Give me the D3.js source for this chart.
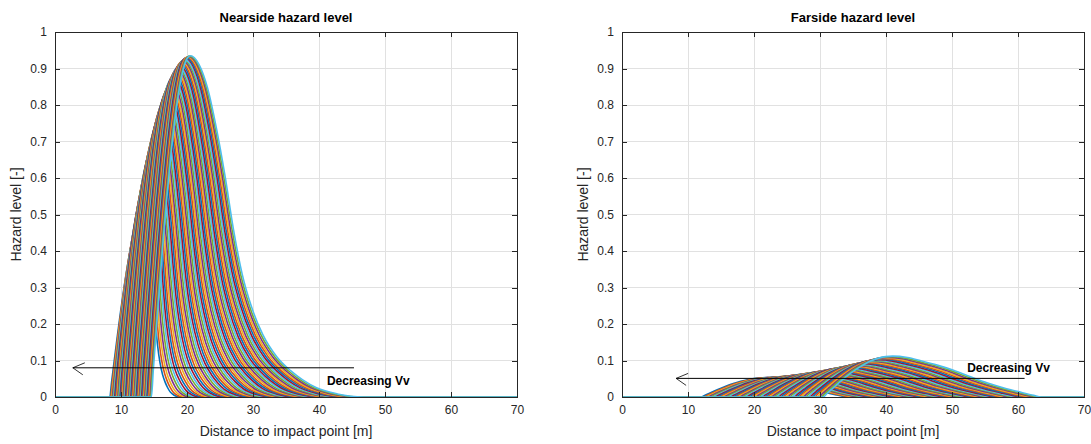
<!DOCTYPE html>
<html><head><meta charset="utf-8">
<script src="https://cdn.jsdelivr.net/npm/d3@7"></script>
<style>
html,body{margin:0;padding:0;background:#fff;}
svg{display:block;font-family:"Liberation Sans",Arial,Helvetica,sans-serif;}
</style></head>
<body><svg id="chart" width="1091" height="444"></svg>
<script>
// ---------- data ----------
const xTicks = [0, 10, 20, 30, 40, 50, 60, 70];
const yTicks = [0, 0.1, 0.2, 0.3, 0.4, 0.5, 0.6, 0.7, 0.8, 0.9, 1];
const yTickLabels = ["0","0.1","0.2","0.3","0.4","0.5","0.6","0.7","0.8","0.9","1"];
const seriesColors = ["#0072BD","#D95319","#EDB120","#7E2F8E","#77AC30","#4DBEEE","#A2142F"];

// normalised bump profile: rising side (fraction of rise distance -> fraction of peak)
const riseU = [0, 0.05, 0.1, 0.15, 0.2, 0.3, 0.4, 0.5, 0.6, 0.7, 0.8, 0.9, 1];
const riseF = [0, 0.079, 0.156, 0.233, 0.309, 0.454, 0.588, 0.707, 0.809, 0.891, 0.951, 0.988, 1];
// falling side, nearside (fraction of fall distance -> fraction of peak)
const nearFallV = [0, 0.05, 0.1, 0.15, 0.2, 0.25, 0.3, 0.35, 0.42, 0.5, 0.58, 0.65, 0.73, 0.85, 1];
const nearFallG = [1, 0.975, 0.905, 0.79, 0.65, 0.49, 0.36, 0.27, 0.182, 0.118, 0.077, 0.05, 0.027, 0.009, 0];
// falling side, farside
const farFallV = [0, 0.1, 0.19, 0.3, 0.41, 0.52, 0.64, 0.75, 0.87, 0.95, 1];
const farFallG = [1, 0.965, 0.885, 0.78, 0.655, 0.5, 0.34, 0.22, 0.11, 0.04, 0];

// Nearside curves: start [m], peak position [m], peak level [-], end [m]
const nearStart = [8.30,8.42,8.53,8.65,8.77,8.88,9.00,9.12,9.23,9.35,9.47,9.58,9.70,9.82,9.93,10.05,10.17,10.28,10.40,10.52,10.63,10.75,10.87,10.98,11.10,11.22,11.33,11.45,11.57,11.68,11.80,11.92,12.03,12.15,12.27,12.38,12.50,12.62,12.73,12.85,12.97,13.08,13.20,13.32,13.43,13.55,13.67,13.78,13.90,14.02,14.13,14.25,14.37,14.48,14.60];
const nearPeak = [13.80,13.92,14.05,14.17,14.30,14.42,14.54,14.67,14.79,14.92,15.04,15.16,15.29,15.41,15.54,15.66,15.79,15.91,16.03,16.16,16.28,16.41,16.53,16.65,16.78,16.90,17.03,17.15,17.27,17.40,17.52,17.65,17.77,17.89,18.02,18.14,18.27,18.39,18.51,18.64,18.76,18.89,19.01,19.13,19.26,19.38,19.51,19.63,19.76,19.88,20.00,20.13,20.25,20.38,20.50];
const nearLevel = [0.520,0.538,0.555,0.573,0.590,0.608,0.623,0.637,0.651,0.665,0.679,0.692,0.703,0.714,0.725,0.737,0.748,0.757,0.767,0.776,0.785,0.794,0.803,0.810,0.818,0.825,0.832,0.840,0.846,0.852,0.858,0.864,0.871,0.876,0.880,0.885,0.890,0.894,0.899,0.902,0.906,0.909,0.913,0.916,0.919,0.921,0.923,0.925,0.928,0.929,0.931,0.932,0.933,0.934,0.935];
const nearEnd = [18.80,19.32,19.83,20.35,20.87,21.38,21.90,22.42,22.93,23.45,23.97,24.48,25.00,25.52,26.03,26.55,27.07,27.58,28.10,28.62,29.13,29.65,30.17,30.68,31.20,31.72,32.23,32.75,33.27,33.78,34.30,34.82,35.33,35.85,36.37,36.88,37.40,37.92,38.43,38.95,39.47,39.98,40.50,41.02,41.53,42.05,42.57,43.08,43.60,44.12,44.63,45.15,45.67,46.18,46.70];

// Farside curves
const farStart = [12.00,12.34,12.69,13.03,13.37,13.71,14.06,14.40,14.74,15.08,15.43,15.77,16.11,16.45,16.80,17.14,17.48,17.82,18.17,18.51,18.85,19.19,19.54,19.88,20.22,20.56,20.91,21.25,21.59,21.94,22.28,22.62,22.96,23.31,23.65,23.99,24.33,24.68,25.02,25.36,25.70,26.05,26.39,26.73,27.07,27.42,27.76,28.10,28.44,28.79,29.13,29.47,29.81,30.16,30.50];
const farPeak = [22.00,22.35,22.70,23.06,23.41,23.76,24.11,24.46,24.81,25.17,25.52,25.87,26.22,26.57,26.93,27.28,27.63,27.98,28.33,28.69,29.04,29.39,29.74,30.09,30.44,30.80,31.15,31.50,31.85,32.20,32.56,32.91,33.26,33.61,33.96,34.31,34.67,35.02,35.37,35.72,36.07,36.43,36.78,37.13,37.48,37.83,38.19,38.54,38.89,39.24,39.59,39.94,40.30,40.65,41.00];
const farLevel = [0.0530,0.0531,0.0533,0.0536,0.0539,0.0543,0.0548,0.0552,0.0558,0.0564,0.0570,0.0576,0.0583,0.0590,0.0598,0.0606,0.0614,0.0623,0.0632,0.0641,0.0650,0.0660,0.0670,0.0681,0.0691,0.0702,0.0713,0.0725,0.0736,0.0748,0.0760,0.0773,0.0785,0.0798,0.0811,0.0825,0.0838,0.0852,0.0866,0.0881,0.0895,0.0910,0.0925,0.0940,0.0955,0.0971,0.0987,0.1002,0.1019,0.1035,0.1052,0.1068,0.1086,0.1103,0.1120];
const farEnd = [34.00,34.55,35.09,35.64,36.19,36.73,37.28,37.82,38.37,38.92,39.46,40.01,40.56,41.10,41.65,42.19,42.74,43.29,43.83,44.38,44.93,45.47,46.02,46.56,47.11,47.66,48.20,48.75,49.30,49.84,50.39,50.94,51.48,52.03,52.57,53.12,53.67,54.21,54.76,55.31,55.85,56.40,56.94,57.49,58.04,58.58,59.13,59.68,60.22,60.77,61.31,61.86,62.41,62.95,63.50];

// annotations (data units): arrow [xFrom, xTo, y], label [x, y]
const nearArrow = [45.3, 2.7, 0.080];
const nearLabel = [41.2, 0.044];
const farArrow = [61.0, 8.2, 0.051];
const farLabel = [52.3, 0.080];
const labelText = "Decreasing Vv";

// ---------- drawing ----------
const svg = d3.select("#chart");
svg.append("rect").attr("width",1091).attr("height",444).attr("fill","#fff");

function panel(opts){
  const {left, right, top, bottom, title, start, peak, level, end, fallV, fallG, arrow, label} = opts;
  const x = d3.scaleLinear().domain([0,70]).range([left,right]);
  const y = d3.scaleLinear().domain([0,1]).range([bottom,top]);
  const g = svg.append("g");
  const axisCol = "#262626";

  // grid
  g.selectAll(".gx").data(xTicks).join("line")
    .attr("x1",d=>x(d)).attr("x2",d=>x(d)).attr("y1",top).attr("y2",bottom)
    .attr("stroke","#e1e1e1").attr("stroke-width",1).attr("shape-rendering","crispEdges");
  g.selectAll(".gy").data(yTicks).join("line")
    .attr("y1",d=>y(d)).attr("y2",d=>y(d)).attr("x1",left).attr("x2",right)
    .attr("stroke","#e1e1e1").attr("stroke-width",1).attr("shape-rendering","crispEdges");

  // curves
  const clipId = "clip"+Math.round(left);
  svg.append("clipPath").attr("id",clipId).append("rect")
    .attr("x",left).attr("y",top-2).attr("width",right-left).attr("height",bottom-top+4);
  const line = d3.line().x(d=>x(d[0])).y(d=>y(d[1])).curve(d3.curveMonotoneX);
  const cg = g.append("g").attr("clip-path",`url(#${clipId})`);
  start.forEach((s,i)=>{
    const riseX = d3.scaleLinear().domain([0,1]).range([s, peak[i]]);
    const fallX = d3.scaleLinear().domain([0,1]).range([peak[i], end[i]]);
    const pts = [[0,0]];
    riseU.forEach((u,k)=>pts.push([riseX(u), level[i]*riseF[k]]));
    fallV.forEach((v,k)=>{ if(k>0) pts.push([fallX(v), level[i]*fallG[k]]); });
    pts.push([70,0]);
    cg.append("path").attr("d",line(pts)).attr("fill","none")
      .attr("stroke",seriesColors[i%seriesColors.length]).attr("stroke-width",1.6)
      .attr("stroke-linejoin","round");
  });

  // box + axes
  g.append("rect").attr("x",left).attr("y",top).attr("width",right-left).attr("height",bottom-top)
    .attr("fill","none").attr("stroke",axisCol).attr("stroke-width",1).attr("shape-rendering","crispEdges");
  const xb = g.append("g").attr("transform",`translate(0,${bottom})`)
    .call(d3.axisBottom(x).tickValues(xTicks).tickSizeInner(-5).tickSizeOuter(0).tickPadding(8));
  const xt = g.append("g").attr("transform",`translate(0,${top})`)
    .call(d3.axisTop(x).tickValues(xTicks).tickSizeInner(-5).tickSizeOuter(0).tickFormat(""));
  const yl = g.append("g").attr("transform",`translate(${left},0)`)
    .call(d3.axisLeft(y).tickValues(yTicks).tickFormat((d,i)=>yTickLabels[i]).tickSizeInner(-5).tickSizeOuter(0).tickPadding(8));
  const yr = g.append("g").attr("transform",`translate(${right},0)`)
    .call(d3.axisRight(y).tickValues(yTicks).tickSizeInner(-5).tickSizeOuter(0).tickFormat(""));
  [xb,xt,yl,yr].forEach(a=>{
    a.select(".domain").remove();
    a.selectAll("line").attr("stroke",axisCol).attr("shape-rendering","crispEdges");
    a.selectAll("text").attr("fill",axisCol).style("font-size","12px")
      .style("font-family",'"Liberation Sans",Arial,sans-serif');
  });

  // titles and labels
  const cx = (left+right)/2;
  g.append("text").attr("x",cx).attr("y",top-10).attr("text-anchor","middle")
    .style("font-size","13px").style("font-weight","bold").attr("fill","#000").text(title);
  g.append("text").attr("x",cx).attr("y",bottom+39).attr("text-anchor","middle")
    .style("font-size","14px").attr("fill",axisCol).text("Distance to impact point [m]");
  g.append("text").attr("transform",`translate(${left-34},${(top+bottom)/2}) rotate(-90)`)
    .attr("text-anchor","middle").style("font-size","14px").attr("fill",axisCol).text("Hazard level [-]");

  // arrow annotation
  const ax1 = x(arrow[0]), ax2 = x(arrow[1]), ay = y(arrow[2]);
  g.append("line").attr("x1",ax1).attr("x2",ax2).attr("y1",ay).attr("y2",ay)
    .attr("stroke","#000").attr("stroke-width",1);
  g.append("path").attr("d",`M${ax2+12},${ay-5}L${ax2},${ay}L${ax2+10},${ay+7}`)
    .attr("fill","none").attr("stroke","#000").attr("stroke-width",0.8);
  g.append("text").attr("x",x(label[0])).attr("y",y(label[1])).attr("dominant-baseline","central")
    .style("font-size","12px").style("font-weight","bold").attr("fill","#000").text(labelText);
}

panel({left:55,right:517,top:32,bottom:397,title:"Nearside hazard level",
  start:nearStart,peak:nearPeak,level:nearLevel,end:nearEnd,fallV:nearFallV,fallG:nearFallG,
  arrow:nearArrow,label:nearLabel});
panel({left:622,right:1084,top:32,bottom:397,title:"Farside hazard level",
  start:farStart,peak:farPeak,level:farLevel,end:farEnd,fallV:farFallV,fallG:farFallG,
  arrow:farArrow,label:farLabel});
</script></body></html>
